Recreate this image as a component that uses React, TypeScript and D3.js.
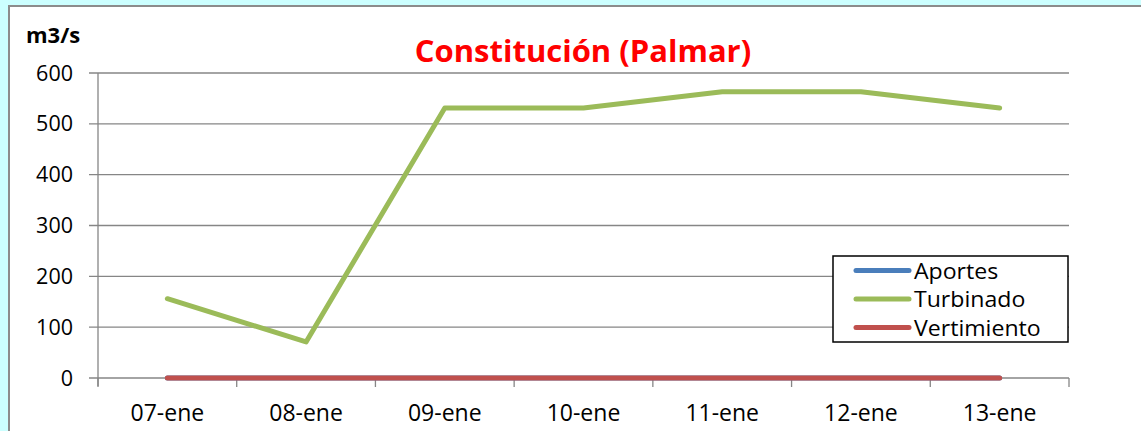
import * as React from 'react'
import * as d3 from 'd3'

const categories = ['07-ene', '08-ene', '09-ene', '10-ene', '11-ene', '12-ene', '13-ene']
const aportes = [0, 0, 0, 0, 0, 0, 0]
const turbinado = [156, 71, 531, 531, 563, 563, 531]
const vertimiento = [0, 0, 0, 0, 0, 0, 0]
const yTicks = [0, 100, 200, 300, 400, 500, 600]

const series = [
  { name: 'Aportes', color: '#4a7ebb', values: aportes },
  { name: 'Turbinado', color: '#9bbb59', values: turbinado },
  { name: 'Vertimiento', color: '#c0504d', values: vertimiento },
]

const W = 1141
const H = 431
const FONT = "'Open Sans', sans-serif"

const App = () => {
  const left = 98
  const right = 1069
  const top = 73
  const bottom = 378

  const x = d3.scaleBand<string>().domain(categories).range([left, right])
  const y = d3.scaleLinear().domain([0, 600]).range([bottom, top])

  const line = d3.line<number>()
    .x((d, i) => (x(categories[i]) as number) + x.bandwidth() / 2)
    .y(d => y(d))

  const boundaries = categories.map(c => x(c) as number).concat([right])

  return (
    <svg width={W} height={H} style={{ position: 'absolute', left: 0, top: 0 }} fontFamily={FONT}>
      <rect width={W} height={H} fill="#ccffff" />
      <rect x={9} y={6} width={W + 10} height={H + 10} fill="#fff" stroke="#8c8c8c" strokeWidth={2} />

      <text x={26} y={43} fontSize={22} fontWeight="bold" fill="#000">m3/s</text>
      <text x={583} y={62} fontSize={31} fontWeight="bold" fill="#ff0000" textAnchor="middle">Constitución (Palmar)</text>

      {/* grid + y ticks */}
      {yTicks.map(t => (
        <g key={t}>
          <line x1={89} x2={right} y1={y(t)} y2={y(t)} stroke="#868686" strokeWidth={1.3} />
          <text x={73} y={y(t) + 7.5} fontSize={21.5} textAnchor="end" fill="#000">{t}</text>
        </g>
      ))}
      <line x1={left} x2={left} y1={top} y2={bottom + 8} stroke="#868686" strokeWidth={1.3} />
      {boundaries.map((b, i) => (
        <line key={i} x1={b} x2={b} y1={bottom} y2={bottom + 9} stroke="#868686" strokeWidth={1.3} />
      ))}
      {categories.map(c => (
        <text key={c} x={(x(c) as number) + x.bandwidth() / 2} y={421} fontSize={23} textAnchor="middle" fill="#000">{c}</text>
      ))}

      {series.map(s => (
        <path key={s.name} d={line(s.values) as string} fill="none" stroke={s.color} strokeWidth={5} strokeLinecap="round" strokeLinejoin="round" />
      ))}

      {/* legend */}
      <rect x={833} y={256} width={235} height={86} fill="#fff" stroke="#000" strokeWidth={1.5} />
      {series.map((s, i) => (
        <g key={s.name}>
          <line x1={856} x2={909} y1={270.5 + i * 28.5} y2={270.5 + i * 28.5} stroke={s.color} strokeWidth={5} strokeLinecap="round" />
          <text transform={`translate(914, ${278.5 + i * 28.5}) scale(1.1, 1)`} fontSize={21} fill="#000">{s.name}</text>
        </g>
      ))}
    </svg>
  )
}

export default App
